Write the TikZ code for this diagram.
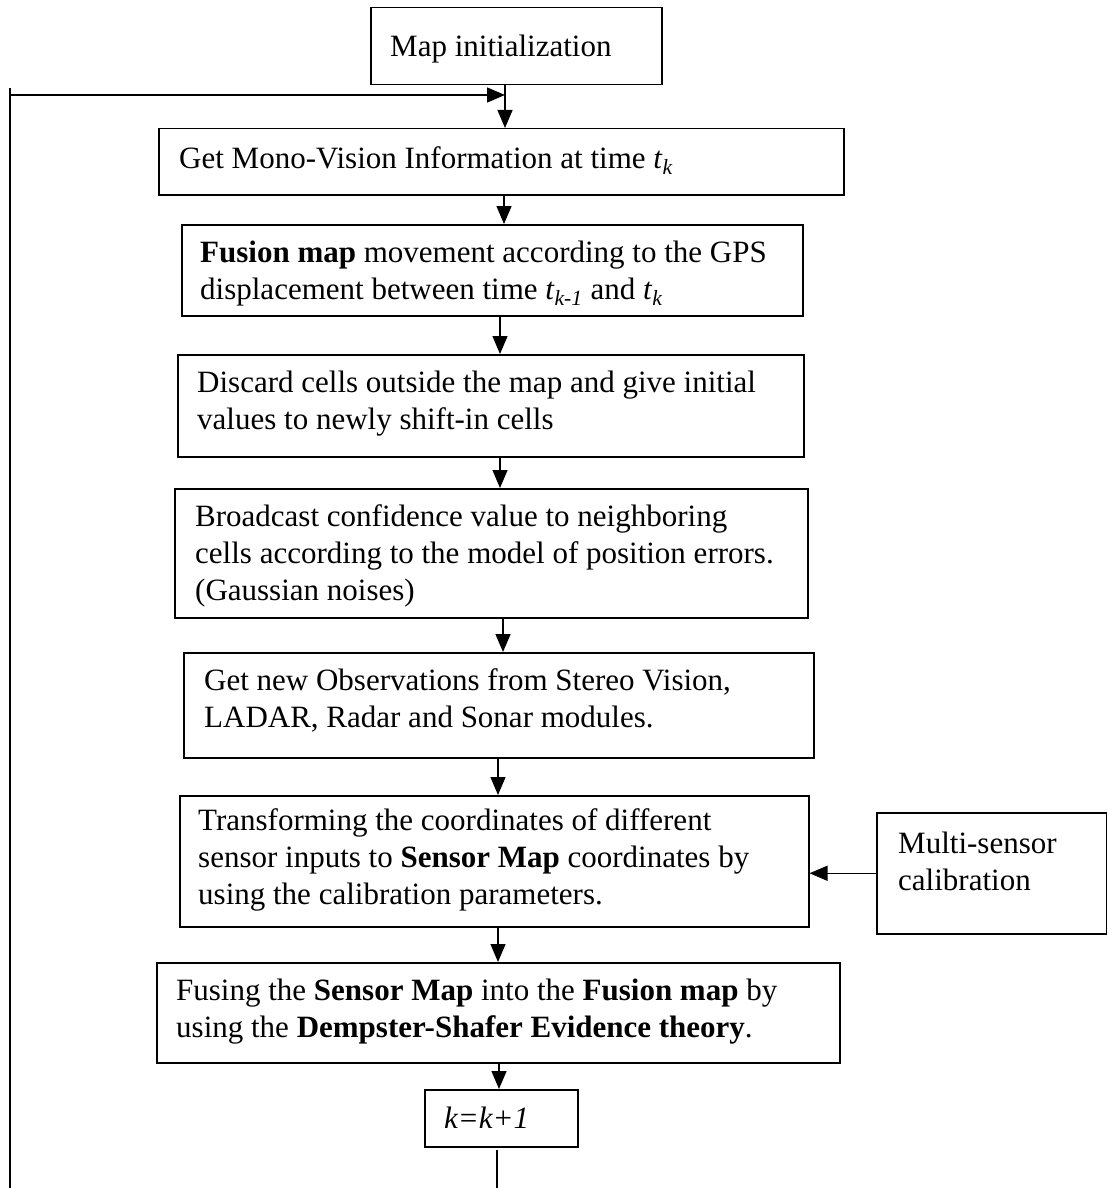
\documentclass[tikz,border=0pt]{standalone}
\usepackage{fontspec}
\setmainfont{Liberation Serif}
\usetikzlibrary{arrows.meta,calc}
\begin{document}
\begin{tikzpicture}[x=1pt,y=-1pt,
  box/.style={draw=black,line width=1.5pt,rectangle,inner sep=0pt,anchor=north west},
  txt/.style={anchor=base west,inner sep=0pt},
  link/.style={line width=1.3pt,draw=black},
  arr/.style={link,-{Triangle[length=18pt,width=15pt]}},
  every node/.append style={font=\fontsize{31}{37}\selectfont}]
\useasboundingbox (0,0) rectangle (1107,1188);
\newcommand{\lines}[1]{\parbox[t]{900pt}{\fontsize{31}{37}\selectfont #1}}
% boxes
\node[box,minimum width=291pt,minimum height=77pt] (init) at (370,7) {};
\node[box,minimum width=685pt,minimum height=66pt] (mono) at (158,128) {};
\node[box,minimum width=621pt,minimum height=91pt] (fus) at (181,224) {};
\node[box,minimum width=626pt,minimum height=102pt] (disc) at (177,354) {};
\node[box,minimum width=633pt,minimum height=129pt] (broad) at (174,488) {};
\node[box,minimum width=630pt,minimum height=105pt] (obs) at (183,652) {};
\node[box,minimum width=629pt,minimum height=131pt] (trans) at (179,795) {};
\node[box,minimum width=230pt,minimum height=121pt] (multi) at (876,812) {};
\node[box,minimum width=683pt,minimum height=100pt] (fusing) at (156,962) {};
\node[box,minimum width=153pt,minimum height=57pt] (kbox) at (424,1089) {};
% texts
\node[txt] (initT) at (390,57) {Map initialization};
\node[txt] (monoT) at (179,168) {Get Mono-Vision Information at time \textit{t}\textsubscript{\textit{k}}};
\node[txt] (fusT) at (200,262) {\lines{\textbf{Fusion map} movement according to the GPS\\displacement between time \textit{t}\textsubscript{\textit{k-1}} and \textit{t}\textsubscript{\textit{k}}}};
\node[txt] (discT) at (197,392) {\lines{Discard cells outside the map and give initial\\values to newly shift-in cells}};
\node[txt] (broadT) at (195,526) {\lines{Broadcast confidence value to neighboring\\cells according to the model of position errors.\\(Gaussian noises)}};
\node[txt] (obsT) at (204,690) {\lines{Get new Observations from Stereo Vision,\\LADAR, Radar and Sonar modules.}};
\node[txt] (transT) at (198,830) {\lines{Transforming the coordinates of different\\sensor inputs to \textbf{Sensor Map} coordinates by\\using the calibration parameters.}};
\node[txt] (multiT) at (898,853) {\lines{Multi-sensor\\calibration}};
\node[txt] (fusingT) at (176,1000) {\lines{Fusing the \textbf{Sensor Map} into the \textbf{Fusion map} by\\using the \textbf{Dempster-Shafer Evidence theory}.}};
\node[txt] (kT) at (444,1128) {\textit{k=k+1}};
% connector x positions
\coordinate (a1) at (505,0);
\coordinate (a2) at (504,0);
\coordinate (a3) at (500,0);
\coordinate (a4) at (500,0);
\coordinate (a5) at (503,0);
\coordinate (a6) at (498,0);
\coordinate (a7) at (498,0);
\coordinate (a8) at (499,0);
\coordinate (kout) at (497,1150);
\coordinate (kend) at (497,1188);
\coordinate (ltop) at (10,88);
\coordinate (lbot) at (10,1188);
\coordinate (lh) at (10,95);
\coordinate (join) at (505,95);
% connectors
\draw[arr] (init.south -| a1) -- (mono.north -| a1);
\draw[arr] (mono.south -| a2) -- (fus.north -| a2);
\draw[arr] (fus.south -| a3) -- (disc.north -| a3);
\draw[arr] (disc.south -| a4) -- (broad.north -| a4);
\draw[arr] (broad.south -| a5) -- (obs.north -| a5);
\draw[arr] (obs.south -| a6) -- (trans.north -| a6);
\draw[arr] (trans.south -| a7) -- (fusing.north -| a7);
\draw[arr] (fusing.south -| a8) -- (kbox.north -| a8);
\draw[arr] (multi.west) -- (multi.west -| trans.east);
\draw[link] (kout) -- (kend);
\draw[link] (ltop) -- (lbot);
\draw[arr] (lh) -- (join);
\end{tikzpicture}
\end{document}
